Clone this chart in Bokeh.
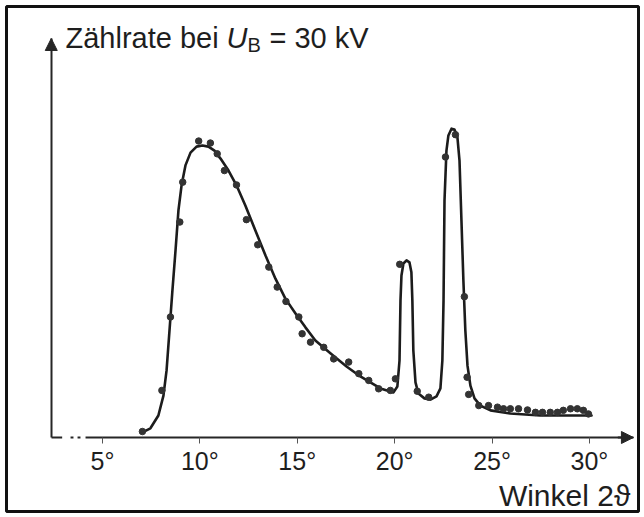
from bokeh.plotting import figure
from bokeh.models import Label, Arrow, NormalHead, FixedTicker, Range1d
from bokeh.embed import file_html
from bokeh.resources import INLINE

# ---- data (angle 2theta in degrees, count rate in arbitrary units) ----
meas_angle = [7.05, 8.05, 8.49, 8.97, 9.12, 9.94, 10.54, 10.89, 11.26, 11.88,
              12.39, 12.97, 13.54, 13.97, 14.42, 15.08, 15.25, 15.68, 16.36, 16.87,
              17.64, 18.16, 18.67, 19.18, 19.78, 20.04, 20.26, 21.16, 21.75, 22.61,
              23.12, 23.58, 23.72, 23.80, 24.32, 24.82, 25.28, 25.59, 25.94, 26.36,
              26.82, 27.23, 27.59, 27.99, 28.36, 28.66, 29.03, 29.38, 29.69, 29.95]
meas_rate = [1.5, 11.8, 30.2, 54.0, 64.0, 74.3, 73.8, 71.1, 66.9, 63.3,
             54.6, 48.3, 42.7, 37.7, 34.1, 30.2, 26.0, 23.9, 22.6, 19.7,
             18.9, 16.0, 14.3, 12.2, 11.8, 14.7, 43.4, 11.6, 10.1, 70.3,
             75.9, 35.3, 15.1, 10.8, 8.0, 8.0, 7.6, 7.2, 7.2, 7.2,
             6.9, 6.3, 6.3, 6.3, 6.3, 6.8, 7.2, 7.2, 6.8, 5.9]

curve_angle = [7.05, 7.46, 7.87, 8.13, 8.29, 8.44, 8.59, 8.75, 8.90, 9.06,
               9.26, 9.52, 9.83, 10.13, 10.44, 10.75, 11.06, 11.47, 11.88, 12.34,
               12.85, 13.37, 13.88, 14.39, 14.91, 15.42, 15.93, 16.70, 17.53, 18.24,
               19.27, 19.94, 20.14, 20.25, 20.30, 20.35, 20.45, 20.61, 20.76, 20.86,
               20.91, 20.96, 21.07, 21.22, 21.53, 21.84, 22.15, 22.35, 22.45, 22.51,
               22.56, 22.66, 22.76, 22.92, 23.07, 23.22, 23.33, 23.43, 23.53, 23.63,
               23.74, 23.89, 24.10, 24.40, 24.92, 25.94, 27.48, 29.03, 30.11]
curve_rate = [1.3, 2.3, 5.5, 10.5, 16.8, 26.8, 36.8, 46.9, 56.9, 63.2,
              68.2, 71.4, 72.9, 73.2, 72.9, 71.9, 69.9, 66.9, 63.2, 58.1,
              51.9, 45.6, 39.8, 34.8, 31.1, 27.6, 24.3, 21.1, 17.8, 15.3,
              12.3, 11.3, 12.8, 19.3, 34.3, 40.6, 43.6, 44.4, 43.9, 41.4,
              34.3, 21.8, 13.8, 11.0, 9.8, 9.5, 10.3, 12.3, 19.3, 34.3,
              59.4, 71.9, 75.7, 77.4, 77.2, 75.4, 69.4, 54.4, 39.3, 26.8,
              18.0, 13.0, 9.8, 8.0, 6.8, 6.0, 5.5, 5.5, 5.5]

tick_values = [5, 10, 15, 20, 25, 30]
tick_labels = ["5°", "10°", "15°", "20°", "25°", "30°"]

# axes extent (data units) and the visible window around them
axis_x0, axis_x1 = 2.37, 32.26
axis_y0, axis_y1 = 0.0, 100.0
view_x0, view_x1 = 0.072, 32.52
view_y0, view_y1 = -18.55, 108.02

FONT = "Liberation Sans"
INK = "#262626"
TXT = "#1e1e1e"

p = figure(width=641, height=514, output_backend="svg", toolbar_location=None,
           x_range=Range1d(view_x0, view_x1), y_range=Range1d(view_y0, view_y1),
           min_border_left=6, min_border_right=3, min_border_top=6,
           min_border_bottom=3, background_fill_color="white",
           border_fill_color="white", outline_line_color="#111111",
           outline_line_width=3)
p.grid.visible = False

# x axis (drawn inside the plot area at count rate 0)
xa = p.xaxis[0]
xa.fixed_location = axis_y0
xa.bounds = (axis_x0, axis_x1)
xa.ticker = FixedTicker(ticks=tick_values)
xa.major_label_overrides = {v: s for v, s in zip(tick_values, tick_labels)}
xa.axis_line_color = INK
xa.axis_line_width = 2
xa.major_tick_in = 0
xa.major_tick_out = 6
xa.major_tick_line_color = "#555555"
xa.major_tick_line_width = 1
xa.minor_tick_line_color = None
xa.major_label_standoff = 4
xa.major_label_text_font = FONT
xa.major_label_text_font_size = "25px"
xa.major_label_text_color = TXT

# y axis
ya = p.yaxis[0]
ya.fixed_location = axis_x0
ya.bounds = (axis_y0, axis_y1)
ya.ticker = FixedTicker(ticks=[])
ya.axis_line_color = INK
ya.axis_line_width = 2
ya.major_tick_line_color = None
ya.minor_tick_line_color = None
ya.major_label_text_font_size = "0px"

# arrow heads
p.add_layout(Arrow(end=NormalHead(size=12, fill_color=INK, line_color=INK),
                   x_start=axis_x1 - 0.8, y_start=axis_y0, x_end=axis_x1, y_end=axis_y0,
                   line_color=INK, line_width=2))
p.add_layout(Arrow(end=NormalHead(size=12, fill_color=INK, line_color=INK),
                   x_start=axis_x0, y_start=axis_y1 - 3, x_end=axis_x0, y_end=axis_y1,
                   line_color=INK, line_width=2))

# small break in the x axis near the origin
p.add_layout(Arrow(end=None, x_start=2.93, y_start=0, x_end=4.13, y_end=0,
                   line_color="white", line_width=4))
p.add_layout(Arrow(end=None, x_start=3.36, y_start=0, x_end=3.51, y_end=0,
                   line_color=INK, line_width=2))
p.add_layout(Arrow(end=None, x_start=3.72, y_start=0, x_end=3.87, y_end=0,
                   line_color=INK, line_width=2))

# curve and measured points
p.line(curve_angle, curve_rate, line_color="#1c1c1c", line_width=2.6,
       line_join="round", line_cap="round")
p.scatter(meas_angle, meas_rate, size=6.5, fill_color="#333333",
          line_color="#333333")

# texts
tx, ty = 3.10, 97.0
up = 12
p.add_layout(Label(x=tx, y=ty, y_offset=up, text="Zählrate bei", text_font=FONT,
                   text_font_size="29px", text_color=TXT,
                   text_baseline="alphabetic"))
p.add_layout(Label(x=tx, y=ty, x_offset=161, y_offset=up, text="U", text_font=FONT,
                   text_font_style="italic", text_font_size="29px",
                   text_color=TXT, text_baseline="alphabetic"))
p.add_layout(Label(x=tx, y=ty, x_offset=182, y_offset=up - 7, text="B",
                   text_font=FONT, text_font_size="20px", text_color=TXT,
                   text_baseline="alphabetic"))
p.add_layout(Label(x=tx, y=ty, x_offset=204, y_offset=up, text="= 30 kV",
                   text_font=FONT, text_font_size="29px", text_color=TXT,
                   text_baseline="alphabetic"))
p.add_layout(Label(x=32.1, y=-17.5, y_offset=up, text="Winkel 2ϑ", text_font=FONT,
                   text_font_size="30px", text_color=TXT,
                   text_align="right", text_baseline="alphabetic"))

open("out.html", "w").write(file_html(p, INLINE))
